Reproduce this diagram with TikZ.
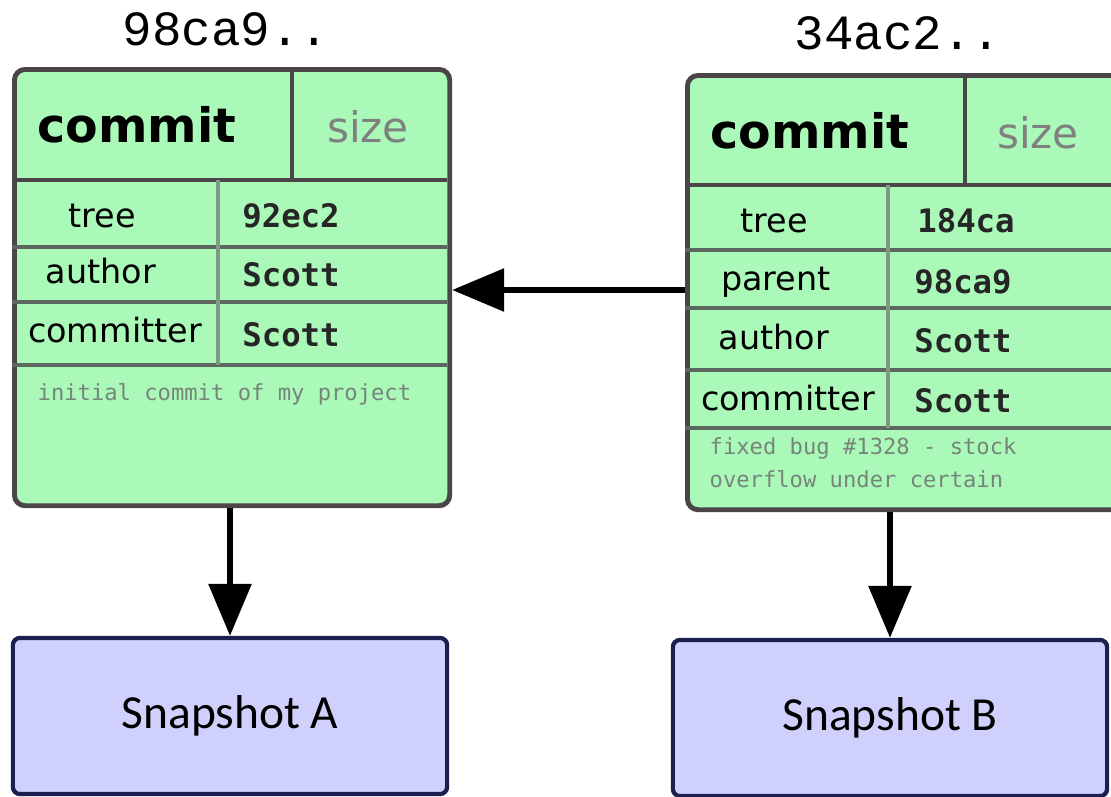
\documentclass[tikz,border=0pt]{standalone}
\usepackage{fontspec}
\setmainfont{DejaVu Sans}
\newfontfamily\hashfont{Liberation Mono}
\newfontfamily\valfont{DejaVu Sans Mono}
\newfontfamily\snapfont{Carlito}
\usetikzlibrary{arrows.meta}
\definecolor{commitgreen}{HTML}{AAF9B8}
\definecolor{boxedge}{HTML}{4B4449}
\definecolor{celledge}{HTML}{5E675F}
\definecolor{coledge}{HTML}{7F9A84}
\definecolor{snapfill}{HTML}{D0D0FC}
\definecolor{snapedge}{HTML}{1B2050}
\definecolor{msggray}{HTML}{76857A}

\begin{document}
\begin{tikzpicture}[x=0.01cm, y=-0.01cm,
	commitbox/.style={draw=boxedge, fill=commitgreen, line width=1.4pt, rounded corners=3pt, anchor=north west, minimum width=4.35cm, inner sep=0pt},
	headline/.style={draw=boxedge, line width=1.4pt},
	rowline/.style={draw=celledge, line width=1.1pt},
	colline/.style={draw=coledge, line width=0.9pt},
	hash/.style={anchor=base, font=\hashfont\fontsize{14}{16}\selectfont},
	kind/.style={anchor=base, font=\bfseries\fontsize{13.5}{16}\selectfont},
	sizetag/.style={anchor=base, text=gray, font=\fontsize{12}{14}\selectfont},
	lbl/.style={anchor=base, font=\fontsize{9.5}{11}\selectfont},
	val/.style={anchor=base, text=black!85, font=\valfont\bfseries\fontsize{9.2}{11}\selectfont},
	msg/.style={anchor=base west, text=msggray, inner sep=0pt, font=\valfont\fontsize{6.3}{8}\selectfont},
	snapbox/.style={draw=snapedge, fill=snapfill, line width=1.2pt, rounded corners=2pt, minimum width=4.34cm, minimum height=1.56cm, font=\snapfont\fontsize{13.5}{16}\selectfont},
	arr/.style={line width=1.7pt, -{Triangle[length=0.52cm, width=0.42cm]}}
	]
	\useasboundingbox (0,0) rectangle (1111,797);
	\clip (0,0) rectangle (1111,797);
	
	% First commit
	\node[hash] (c1hash) at (226,45) {98ca9..};
	\node[commitbox, minimum height=4.36cm] (c1) at (12,67) {};
	\draw[headline] (12,180) -- (447,180) (292,67) -- (292,180);
	\draw[rowline] (12,247) -- (447,247) (12,302) -- (447,302) (12,365) -- (447,365);
	\draw[colline] (218,180) -- (218,365);
	\node[kind] (c1kind) at (137,143) {commit};
	\node[sizetag] (c1size) at (368,143) {size};
	\node[lbl] (c1tree) at (102,228) {tree};
	\node[val] (c1treev) at (291,228) {92ec2};
	\node[lbl] (c1auth) at (101,283) {author};
	\node[val] (c1authv) at (291,287) {Scott};
	\node[lbl] (c1comm) at (115,343) {committer};
	\node[val] (c1commv) at (291,347) {Scott};
	\node[msg] (c1msg) at (37,400) {initial commit of my project};
	
	% Second commit
	\node[hash] (c2hash) at (898,50) {34ac2..};
	\node[commitbox, minimum height=4.34cm] (c2) at (685,73) {};
	\draw[headline] (685,185) -- (1120,185) (965,73) -- (965,185);
	\draw[rowline] (685,250) -- (1120,250) (685,308) -- (1120,308) (685,370) -- (1120,370) (685,428) -- (1120,428);
	\draw[colline] (888,185) -- (888,428);
	\node[kind] (c2kind) at (810,148) {commit};
	\node[sizetag] (c2size) at (1038,148) {size};
	\node[lbl] (c2tree) at (774,232) {tree};
	\node[val] (c2treev) at (966,232) {184ca};
	\node[lbl] (c2par) at (776,290) {parent};
	\node[val] (c2parv) at (963,293) {98ca9};
	\node[lbl] (c2auth) at (774,350) {author};
	\node[val] (c2authv) at (963,352) {Scott};
	\node[lbl] (c2comm) at (788,410) {committer};
	\node[val] (c2commv) at (963,412) {Scott};
	\node[msg] (c2msga) at (709,455) {fixed bug \#1328 - stock};
	\node[msg] (c2msgb) at (709,487) {overflow under certain};
	
	% Snapshots
	\node[snapbox] (sa) at (230,716) {Snapshot A};
	\node[snapbox] (sb) at (890,718) {Snapshot B};
	
	% Pointers
	\draw[arr] (sa.north |- c1.south) -- (sa.north);
	\draw[arr] (sb.north |- c2.south) -- (sb.north);
	\draw[arr] (c2.west |- 0,290) -- (c1.east |- 0,290);
\end{tikzpicture}
\end{document}
